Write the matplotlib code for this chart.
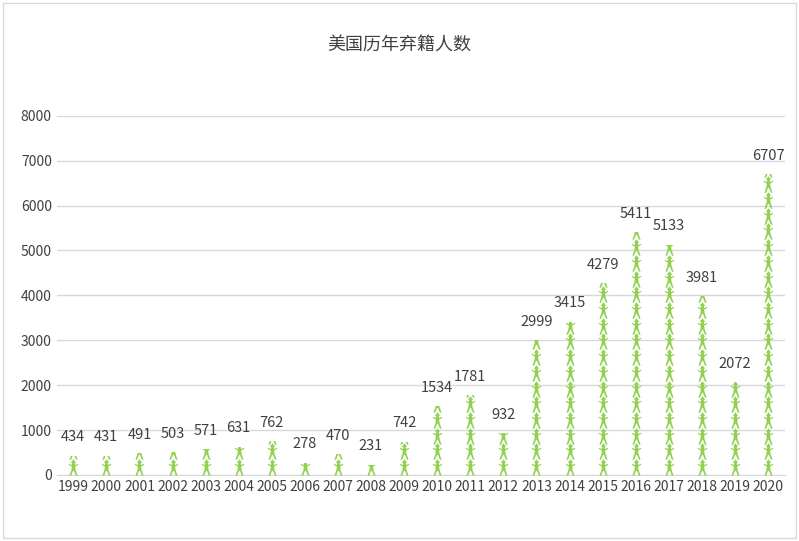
import matplotlib.pyplot as plt
from matplotlib.path import Path
from matplotlib.patches import Rectangle
import numpy as np

plt.rcParams['font.family'] = ['Noto Sans CJK SC', 'DejaVu Sans']

years = [str(y) for y in range(1999, 2021)]
counts = [434, 431, 491, 503, 571, 631, 762, 278, 470, 231, 742,
          1534, 1781, 932, 2999, 3415, 4279, 5411, 5133, 3981, 2072, 6707]

# little person icon with raised arms
verts = [(0, 1.0), (0.35, 0.55), (0.15, 0.6), (0.2, 0.3), (0.55, 0.45), (0.6, 0.35),
         (0.2, 0.1), (0.25, -0.3), (0.5, -1.0), (0.3, -1.0), (0.05, -0.4),
         (-0.05, -0.4), (-0.3, -1.0), (-0.5, -1.0), (-0.25, -0.3), (-0.2, 0.1),
         (-0.6, 0.35), (-0.55, 0.45), (-0.2, 0.3), (-0.15, 0.6), (-0.35, 0.55), (0, 1.0)]
person = Path(verts, closed=True)

fig = plt.figure(figsize=(7.99, 5.41), dpi=100)
fig.patches.append(Rectangle((0.004, 0.006), 0.992, 0.988, transform=fig.transFigure,
                             fill=False, edgecolor='#d9d9d9', linewidth=1))
ax = fig.add_axes([0.071, 0.122, 0.911, 0.664])
ax.set_facecolor('white')

unit = 350
x = np.arange(len(years))
for i, v in enumerate(counts):
    ys = np.arange(unit / 2, v + unit / 2, unit)
    sc = ax.scatter(np.full(len(ys), i), ys, marker=person, s=140,
                    color='#92d050', linewidths=0, zorder=3)
    clip = Rectangle((i - 0.4, 0), 0.8, v, transform=ax.transData)
    sc.set_clip_path(clip)
    ax.text(i, v + 250, str(v), ha='center', va='bottom', fontsize=10.5, color='#404040')

ax.set_xlim(-0.5, len(years) - 0.5)
ax.set_ylim(0, 8000)
ax.set_yticks(range(0, 8001, 1000))
ax.set_xticks(x)
ax.set_xticklabels(years, fontsize=10, color='#404040')
ax.tick_params(axis='y', labelsize=10, labelcolor='#404040', length=0)
ax.tick_params(axis='x', length=0)
ax.grid(axis='y', color='#d9d9d9', linewidth=1)
ax.set_axisbelow(True)
for s in ['top', 'right', 'left']:
    ax.spines[s].set_visible(False)
ax.spines['bottom'].set_color('#d9d9d9')

fig.text(0.5, 0.915, '美国历年弃籍人数', ha='center', va='center', fontsize=13, color='#404040')

fig.savefig('out.png', dpi=100)
